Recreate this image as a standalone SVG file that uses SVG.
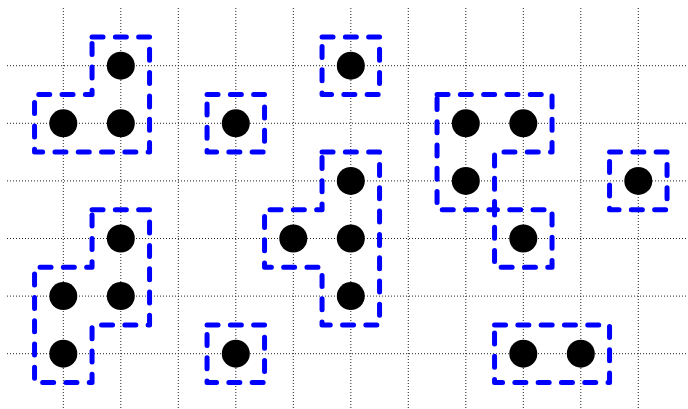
<svg xmlns="http://www.w3.org/2000/svg" width="688" height="409" viewBox="0 0 688 409">
<style>
.grid line{stroke:#222;stroke-width:1;stroke-dasharray:1 2}
.reg{fill:none;stroke:#0000ff;stroke-width:5;stroke-linecap:round;stroke-linejoin:round;stroke-dasharray:11 12.3}
.dot{fill:#000}
</style>
<rect width="688" height="409" fill="#fff"/>
<g class="grid">
<line x1="63.3" y1="8" x2="63.3" y2="409"/>
<line x1="120.8" y1="8" x2="120.8" y2="409"/>
<line x1="178.3" y1="8" x2="178.3" y2="409"/>
<line x1="235.8" y1="8" x2="235.8" y2="409"/>
<line x1="293.3" y1="8" x2="293.3" y2="409"/>
<line x1="350.8" y1="8" x2="350.8" y2="409"/>
<line x1="408.3" y1="8" x2="408.3" y2="409"/>
<line x1="465.8" y1="8" x2="465.8" y2="409"/>
<line x1="523.3" y1="8" x2="523.3" y2="409"/>
<line x1="580.8" y1="8" x2="580.8" y2="409"/>
<line x1="638.3" y1="8" x2="638.3" y2="409"/>
<line x1="7" y1="65.7" x2="688" y2="65.7"/>
<line x1="7" y1="123.3" x2="688" y2="123.3"/>
<line x1="7" y1="180.9" x2="688" y2="180.9"/>
<line x1="7" y1="238.5" x2="688" y2="238.5"/>
<line x1="7" y1="296.1" x2="688" y2="296.1"/>
<line x1="7" y1="353.7" x2="688" y2="353.7"/>
</g>
<g id="regionA">
<path class="reg" d="M92.05,36.9 H149.55 V152.1 H34.55 V94.5 H92.05 Z"/>
<circle class="dot" cx="120.8" cy="65.7" r="14"/><circle class="dot" cx="63.3" cy="123.3" r="14"/><circle class="dot" cx="120.8" cy="123.3" r="14"/>
</g>
<g id="regionB">
<rect class="reg" x="207.05" y="94.5" width="57.5" height="57.6"/>
<circle class="dot" cx="235.8" cy="123.3" r="14"/>
</g>
<g id="regionC">
<rect class="reg" x="322.05" y="36.9" width="57.5" height="57.6"/>
<circle class="dot" cx="350.8" cy="65.7" r="14"/>
</g>
<g id="regionD">
<path class="reg" d="M437.05,94.5 H552.05 V152.1 H494.55 V209.7 H552.05 V267.3 H494.55 V209.7 H437.05 Z"/>
<circle class="dot" cx="465.8" cy="123.3" r="14"/><circle class="dot" cx="523.3" cy="123.3" r="14"/><circle class="dot" cx="465.8" cy="180.9" r="14"/><circle class="dot" cx="523.3" cy="238.5" r="14"/>
</g>
<g id="regionE">
<rect class="reg" x="609.55" y="152.1" width="57.5" height="57.6"/>
<circle class="dot" cx="638.3" cy="180.9" r="14"/>
</g>
<g id="regionF">
<path class="reg" d="M92.05,209.7 H149.55 V324.9 H92.05 V382.5 H34.55 V267.3 H92.05 Z"/>
<circle class="dot" cx="120.8" cy="238.5" r="14"/><circle class="dot" cx="63.3" cy="296.1" r="14"/><circle class="dot" cx="120.8" cy="296.1" r="14"/><circle class="dot" cx="63.3" cy="353.7" r="14"/>
</g>
<g id="regionG">
<path class="reg" d="M322.05,152.1 H379.55 V324.9 H322.05 V267.3 H264.55 V209.7 H322.05 Z"/>
<circle class="dot" cx="350.8" cy="180.9" r="14"/><circle class="dot" cx="293.3" cy="238.5" r="14"/><circle class="dot" cx="350.8" cy="238.5" r="14"/><circle class="dot" cx="350.8" cy="296.1" r="14"/>
</g>
<g id="regionH">
<rect class="reg" x="207.05" y="324.9" width="57.5" height="57.6"/>
<circle class="dot" cx="235.8" cy="353.7" r="14"/>
</g>
<g id="regionI">
<rect class="reg" x="494.55" y="324.9" width="115" height="57.6"/>
<circle class="dot" cx="523.3" cy="353.7" r="14"/><circle class="dot" cx="580.8" cy="353.7" r="14"/>
</g>
</svg>
